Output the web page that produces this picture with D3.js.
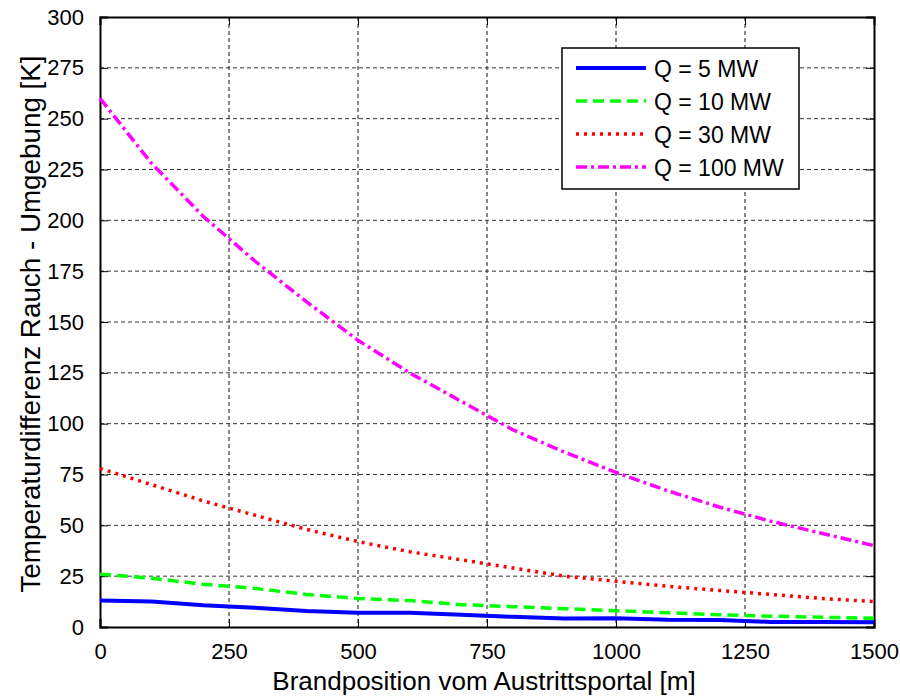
<!DOCTYPE html>
<html>
<head>
<meta charset="utf-8">
<script src="https://cdn.jsdelivr.net/npm/d3@7"></script>
<style>
  body { margin: 0; background: #fff; }
  text { font-family: "Liberation Sans", Arial, sans-serif; fill: #000; }
</style>
</head>
<body>
<script>
const positions = [0, 100, 200, 300, 400, 500, 600, 700, 800, 900, 1000, 1100, 1200, 1300, 1400, 1500]
const q5 = [13, 12.5, 10.7, 9.5, 7.9, 7, 7, 6, 5, 4.2, 4.3, 3.6, 3.5, 2.5, 2.4, 2.3]
const q10 = [26, 24, 21, 19, 16, 14, 13, 11, 10, 9, 8, 7, 6, 5.3, 4.8, 4.3]
const q30 = [78, 70, 62, 55, 48, 42, 37, 33, 29, 25, 22.5, 20, 18, 16, 14, 12.5]
const q100 = [260, 228, 202, 180, 160, 141, 125, 111, 97, 86, 76, 67, 59, 52, 46, 40]
const seriesNames = ["Q = 5 MW", "Q = 10 MW", "Q = 30 MW", "Q = 100 MW"]
const xTicks = [0, 250, 500, 750, 1000, 1250, 1500]
const yTicks = [0, 25, 50, 75, 100, 125, 150, 175, 200, 225, 250, 275, 300]

const series = [
  { name: seriesNames[0], values: q5, color: "#0000ff", width: 4, dash: null },
  { name: seriesNames[1], values: q10, color: "#00ff00", width: 3.5, dash: "11,6" },
  { name: seriesNames[2], values: q30, color: "#ff0000", width: 3.5, dash: "3,5" },
  { name: seriesNames[3], values: q100, color: "#ff00ff", width: 3.5, dash: "11,4,3,4" },
]

let w = 900
let h = 696
const plot = { left: 100, right: 874, top: 17, bottom: 627 }

const svg = d3.select("body").append("svg").attr("width", w).attr("height", h)

const xScale = d3.scaleLinear().domain([0, 1500]).range([plot.left, plot.right])
const yScale = d3.scaleLinear().domain([0, 300]).range([plot.bottom, plot.top])

// grid
svg.append("g")
  .selectAll("line")
  .data(xTicks.slice(1, -1))
  .enter()
  .append("line")
  .attr("x1", (d) => xScale(d)).attr("x2", (d) => xScale(d))
  .attr("y1", plot.top).attr("y2", plot.bottom)
  .attr("stroke", "#111").attr("stroke-width", 1).attr("stroke-dasharray", "4,3")

svg.append("g")
  .selectAll("line")
  .data(yTicks.slice(1, -1))
  .enter()
  .append("line")
  .attr("x1", plot.left).attr("x2", plot.right)
  .attr("y1", (d) => yScale(d)).attr("y2", (d) => yScale(d))
  .attr("stroke", "#333").attr("stroke-width", 1).attr("stroke-dasharray", "4,3")

// axes with inward ticks
const fmt = d3.format("d")
const xAxis = svg.append("g").attr("transform", `translate(0,${plot.bottom})`)
  .call(d3.axisBottom(xScale).tickValues(xTicks).tickSize(-8).tickPadding(16).tickFormat(fmt))
const xAxisTop = svg.append("g").attr("transform", `translate(0,${plot.top})`)
  .call(d3.axisTop(xScale).tickValues(xTicks).tickSize(-8).tickFormat(""))
const yAxis = svg.append("g").attr("transform", `translate(${plot.left},0)`)
  .call(d3.axisLeft(yScale).tickValues(yTicks).tickSize(-8).tickPadding(16).tickFormat(fmt))
const yAxisRight = svg.append("g").attr("transform", `translate(${plot.right},0)`)
  .call(d3.axisRight(yScale).tickValues(yTicks).tickSize(-8).tickFormat(""))

;[xAxis, xAxisTop, yAxis, yAxisRight].forEach((g) => {
  g.selectAll(".domain").attr("stroke", "#000").attr("stroke-width", 2)
  g.selectAll(".tick line").attr("stroke", "#000").attr("stroke-width", 1)
  g.selectAll("text").attr("font-size", "22px").attr("fill", "#000")
    .attr("font-family", "'Liberation Sans', Arial, sans-serif")
})

// lines
const line = d3.line()
  .x((d, i) => xScale(positions[i]))
  .y((d) => yScale(d))

svg.append("g")
  .selectAll("path")
  .data(series)
  .enter()
  .append("path")
  .attr("d", (d) => line(d.values))
  .attr("fill", "none")
  .attr("stroke", (d) => d.color)
  .attr("stroke-width", (d) => d.width)
  .attr("stroke-dasharray", (d) => d.dash)

// legend
const legend = svg.append("g")
legend.append("rect")
  .attr("x", 562).attr("y", 48).attr("width", 237).attr("height", 141)
  .attr("fill", "#fff").attr("stroke", "#000").attr("stroke-width", 1.5)

const entry = legend.selectAll("g.entry")
  .data(series)
  .enter()
  .append("g")
  .attr("class", "entry")
  .attr("transform", (d, i) => `translate(0,${68 + i * 33})`)
entry.append("line")
  .attr("x1", 576).attr("x2", 646)
  .attr("stroke", (d) => d.color)
  .attr("stroke-width", (d) => d.width)
  .attr("stroke-dasharray", (d) => d.dash)
entry.append("text")
  .attr("x", 654).attr("y", 8.5)
  .attr("font-size", "23px")
  .text((d) => d.name)

// axis labels
svg.append("text")
  .attr("x", (plot.left + plot.right) / 2 - 3).attr("y", 690)
  .attr("text-anchor", "middle")
  .attr("font-size", "26px")
  .text("Brandposition vom Austrittsportal [m]")

svg.append("text")
  .attr("transform", `translate(40,324) rotate(-90)`)
  .attr("text-anchor", "middle")
  .attr("font-size", "27.8px")
  .text("Temperaturdifferenz Rauch - Umgebung [K]")
</script>
</body>
</html>
